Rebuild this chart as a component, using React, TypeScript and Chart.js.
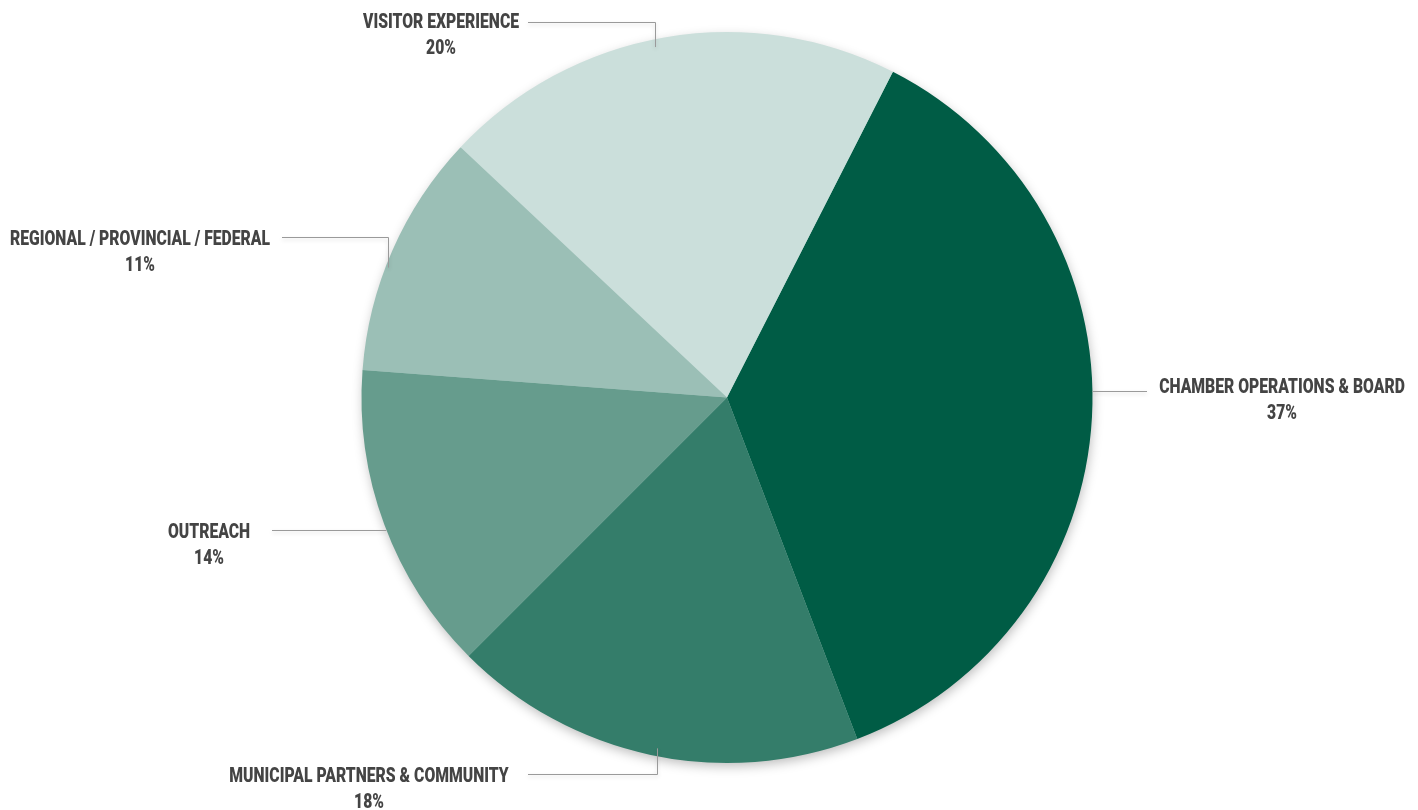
import React, { useEffect, useRef } from "react";
import { Chart, registerables } from "chart.js";

Chart.register(...registerables);

const categories = [
  "CHAMBER OPERATIONS & BOARD",
  "MUNICIPAL PARTNERS & COMMUNITY",
  "OUTREACH",
  "REGIONAL / PROVINCIAL / FEDERAL",
  "VISITOR EXPERIENCE",
];
const values = [36.7, 18.3, 13.7, 10.8, 20.5];
const percentLabels = ["37%", "18%", "14%", "11%", "20%"];
const colors = ["#005c45", "#347d6a", "#669c8d", "#9bbfb6", "#cbdfdb"];

// label layout: text centre x, cap-centre y of first line, leader start, elbow x (or null)
const labelLayout = [
  { tx: 1282, ty: 385, lx: 1147, ly: 391, elbow: null as number | null },
  { tx: 369, ty: 774.5, lx: 528, ly: 774, elbow: 657 },
  { tx: 209, ty: 530.5, lx: 272, ly: 530, elbow: null as number | null },
  { tx: 140, ty: 237.5, lx: 282, ly: 237, elbow: 388 },
  { tx: 441, ty: 20.5, lx: 528, ly: 22, elbow: 655 },
];

const FONT = "900 21px Roboto, 'DejaVu Sans', sans-serif";

const shadowPlugin = {
  id: "pieShadow",
  beforeDatasetsDraw(chart: any) {
    const arc = chart.getDatasetMeta(0).data[0];
    if (!arc) return;
    const { x, y, outerRadius } = arc.getProps(["x", "y", "outerRadius"], true);
    const ctx = chart.ctx;
    ctx.save();
    ctx.shadowColor = "rgba(0,0,0,0.28)";
    ctx.shadowBlur = 12;
    ctx.shadowOffsetX = 1;
    ctx.shadowOffsetY = 4;
    ctx.fillStyle = "#9bbfb6";
    ctx.beginPath();
    ctx.arc(x, y, outerRadius - 1, 0, Math.PI * 2);
    ctx.fill();
    ctx.restore();
  },
};

const labelPlugin = {
  id: "leaderLabels",
  afterDraw(chart: any) {
    const arc = chart.getDatasetMeta(0).data[0];
    if (!arc) return;
    const { x: cx, y: cy, outerRadius: r } = arc.getProps(["x", "y", "outerRadius"], true);
    const ctx = chart.ctx;
    ctx.save();
    ctx.font = FONT;
    const sx = 156 / ctx.measureText("VISITOR EXPERIENCE").width;

    labelLayout.forEach((L, i) => {
      // leader line
      ctx.save();
      ctx.strokeStyle = "#9a9a9a";
      ctx.lineWidth = 1;
      ctx.shadowColor = "rgba(0,0,0,0.18)";
      ctx.shadowBlur = 4;
      ctx.shadowOffsetY = 2;
      ctx.beginPath();
      ctx.moveTo(L.lx, L.ly + 0.5);
      if (L.elbow !== null) {
        const ex = L.elbow + 0.5;
        const dy = Math.sqrt(Math.max(0, r * r - (ex - cx) * (ex - cx)));
        const ey = L.ly < cy ? cy - dy : cy + dy;
        ctx.lineTo(ex, L.ly + 0.5);
        ctx.lineTo(ex, ey + (L.ly < cy ? 8 : -8));
      } else {
        const dx = Math.sqrt(Math.max(0, r * r - (L.ly - cy) * (L.ly - cy)));
        const ex = L.lx > cx ? cx + dx : cx - dx;
        ctx.lineTo(ex, L.ly + 0.5);
      }
      ctx.stroke();
      ctx.restore();

      // text
      ctx.fillStyle = "#444444";
      ctx.textAlign = "center";
      ctx.textBaseline = "alphabetic";
      const lines = [categories[i], percentLabels[i]];
      lines.forEach((t, k) => {
        ctx.save();
        ctx.translate(L.tx, L.ty + 7.5 + k * 26);
        ctx.scale(sx, 1);
        ctx.fillText(t, 0, 0);
        ctx.restore();
      });
    });
    ctx.restore();
  },
};

export default function App() {
  const ref = useRef<HTMLCanvasElement | null>(null);
  useEffect(() => {
    document.body.style.margin = "0";
    const c = ref.current;
    if (!c) return;
    const chart = new Chart(c, {
      type: "pie",
      data: {
        labels: categories,
        datasets: [
          {
            data: values,
            backgroundColor: colors,
            borderWidth: 0,
          },
        ],
      },
      options: {
        responsive: false,
        animation: false,
        rotation: 27,
        layout: { padding: { top: 32, bottom: 47, left: 300, right: 264 } },
        plugins: {
          legend: { display: false },
          tooltip: { enabled: false },
        },
      },
      plugins: [shadowPlugin, labelPlugin],
    });
    return () => chart.destroy();
  }, []);
  return (
    <div style={{ width: 1418, height: 810, background: "#fff" }}>
      <canvas ref={ref} width={1418} height={810} style={{ display: "block" }} />
    </div>
  );
}
